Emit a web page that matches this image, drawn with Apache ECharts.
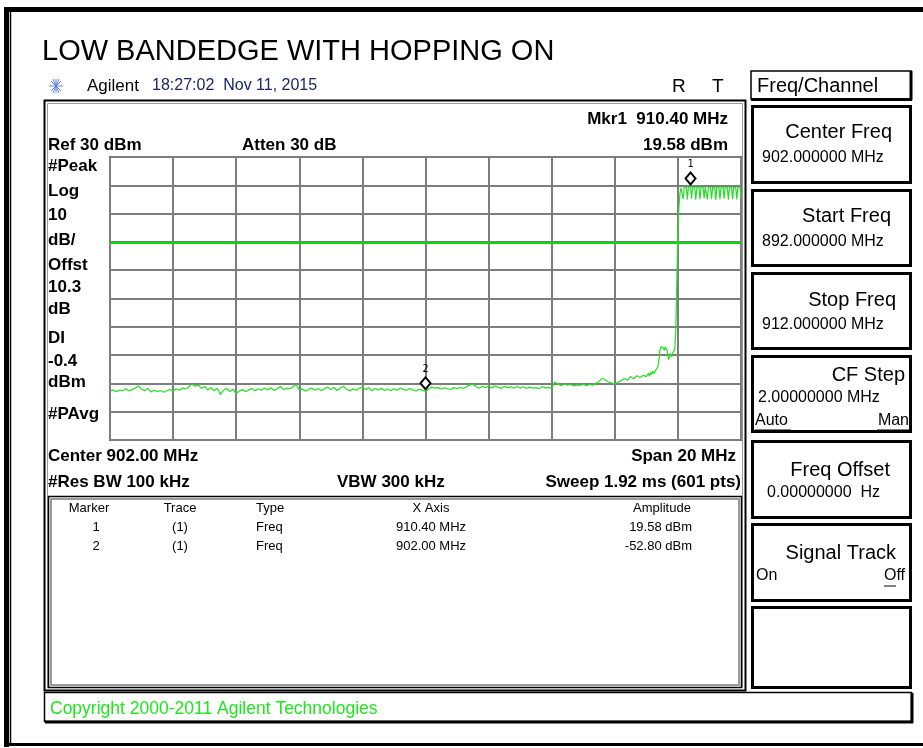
<!DOCTYPE html>
<html>
<head>
<meta charset="utf-8">
<script src="https://cdn.jsdelivr.net/npm/echarts@6/dist/echarts.min.js"></script>
<style>
html,body{margin:0;padding:0;background:#fff;}
#chart{width:923px;height:748px;}
</style>
</head>
<body>
<div id="chart"></div>
<script>
// ---------- DATA ----------
const chartTitle = 'LOW BANDEDGE WITH HOPPING ON';
const startFreqMHz = 892;
const stopFreqMHz = 912;
const freqDivMHz = 2;
const refLevelDbm = 30;
const bottomLevelDbm = -70;
const dbPerDiv = 10;
const displayLineDbm = -0.4;

// noise floor trace, 892.0 .. 909.0 MHz, every 0.1 MHz
const noiseStartMHz = 892.0;
const noiseStepMHz = 0.1;
const noiseLevels = [
  -52.8,-52.3,-52.9,-52.4,-52.6,-51.9,-52.7,-52.2,-51.6,-50.9,
  -52.0,-52.6,-51.8,-53.0,-52.4,-52.9,-52.5,-53.1,-52.6,-52.2,
  -52.7,-51.9,-52.4,-51.6,-52.0,-51.2,-50.1,-51.0,-50.6,-51.8,
  -51.1,-52.3,-51.5,-52.6,-51.7,-53.9,-52.4,-51.8,-52.9,-52.1,
  -53.6,-52.7,-52.2,-52.9,-52.3,-51.8,-52.6,-52.0,-52.4,-51.6,
  -52.3,-51.5,-52.5,-51.9,-51.1,-52.2,-51.7,-51.9,-51.2,-50.4,
  -52.3,-52.0,-52.8,-52.1,-51.6,-52.4,-51.8,-52.6,-51.9,-51.3,
  -52.2,-51.4,-52.5,-51.6,-51.0,-52.1,-52.7,-51.9,-52.4,-51.7,
  -51.3,-52.2,-51.5,-52.6,-51.8,-52.3,-51.7,-52.5,-52.0,-52.6,
  -51.9,-52.4,-51.6,-52.1,-52.5,-51.8,-52.3,-52.7,-52.1,-52.4,
  -52.8,-52.0,-51.3,-51.7,-51.5,-52.0,-51.6,-51.9,-52.1,-51.5,
  -51.9,-51.4,-51.8,-51.2,-50.6,-50.2,-51.1,-51.7,-51.0,-51.5,
  -50.8,-51.6,-50.9,-51.3,-51.8,-51.0,-51.5,-51.2,-51.7,-51.1,
  -51.6,-51.2,-51.8,-51.3,-51.7,-51.5,-51.9,-51.2,-51.6,-51.4,
  -51.8,-49.6,-50.3,-50.8,-50.1,-50.6,-50.4,-50.9,-50.5,-50.7,
  -50.2,-50.8,-50.4,-50.6,-50.0,-49.3,-48.2,-48.8,-49.5,-49.9,
  -50.2,-49.6,-49.1,-48.3,-48.9,-47.6,-48.4,-47.3,-47.9,-47.1,
  -47.6
];

// band edge + hopping channels, 909.0333 .. 912.0 MHz, sweep-point spacing (1/30 MHz)
const edgeStartMHz = 909.0 + 1 / 30;
const edgeStepMHz = 1 / 30;
const edgeLevels = [
  -47.2,-46.4,-47.5,-46.1,-46.9,-45.6,-46.6,-45.9,-45.3,-44.8,
  -44.2,-41.5,-38.0,-37.0,-36.6,-37.4,-38.3,-37.1,-37.8,-38.6,
  -41.6,-40.8,-39.4,-40.6,-39.2,-38.8,-38.1,-31.5,-14.0,  4.0,
   12.5, 17.2, 19.1, 19.5, 15.2, 19.3, 19.5, 19.4, 15.0, 19.2,
   19.5, 19.58,15.3, 19.4, 19.5, 19.3, 14.9, 19.2, 19.5, 19.4,
   15.1, 19.3, 19.5, 19.2, 15.4, 19.4, 19.5, 15.0, 19.3, 19.5,
   19.4, 15.2, 19.3, 19.5, 19.2, 14.8, 19.4, 19.5, 19.3, 15.1,
   19.2, 19.5, 19.4, 15.3, 19.3, 19.5, 19.1, 14.9, 19.4, 19.5,
   19.3, 15.2, 19.4, 19.5, 19.2, 15.0, 19.3, 19.5, 19.4, 15.6
];

const markerNames = ['1', '2'];
const markerFreqsMHz = [910.40, 902.00];
const markerLevelsDbm = [19.58, -52.80];

// ---------- BUILD ----------
const trace = [];
noiseLevels.forEach((v, i) => trace.push([+(noiseStartMHz + i * noiseStepMHz).toFixed(4), v]));
edgeLevels.forEach((v, i) => trace.push([+(edgeStartMHz + i * edgeStepMHz).toFixed(4), v]));

const FONT = '"Liberation Sans", Arial, sans-serif';
const G = [];
function txt(x, y, s, size, opt) {
  opt = opt || {};
  G.push({
    type: 'text', x: x, y: y, z: 10,
    style: {
      text: s, fill: opt.color || '#000',
      font: (opt.bold ? 'bold ' : '') + size + 'px ' + FONT,
      textAlign: opt.align || 'left', textVerticalAlign: 'middle'
    }
  });
}
function box(x, y, w, h, opt) {
  opt = opt || {};
  G.push({
    type: 'rect', z: opt.z || 1,
    shape: { x: x, y: y, width: w, height: h },
    style: { fill: opt.fill || 'none', stroke: opt.stroke || '#000', lineWidth: opt.lw || 1 }
  });
}
function ln(x1, y1, x2, y2, color, lw) {
  G.push({ type: 'line', z: 2, shape: { x1: x1, y1: y1, x2: x2, y2: y2 }, style: { stroke: color, lineWidth: lw } });
}

// outer frame
ln(4, 9.5, 923, 9.5, '#000', 5);
ln(6.5, 8, 6.5, 747, '#000', 5);
ln(10.5, 12, 10.5, 745, '#000', 1.5);
ln(8, 744.5, 923, 744.5, '#000', 3);

// title & header
txt(42, 52, chartTitle, 29);
// Agilent star
[[0,-7,0,7],[-7,0,7,0],[-5,-5,5,5],[-5,5,5,-5],[-3,-7,3,7],[3,-7,-3,7]].forEach(s =>
  ln(56 + s[0], 86 + s[1], 56 + s[2], 86 + s[3], '#5c7fe6', 1));
txt(87, 86, 'Agilent', 17);
txt(152, 86, '18:27:02  Nov 11, 2015', 16, { color: '#1b2466' });
txt(672, 87, 'R', 19);
txt(712, 87, 'T', 19);

// display frame
box(44.5, 100.5, 701, 590, { lw: 2 });
box(47.5, 103.5, 695, 584, { stroke: '#9a9a9a', lw: 1 });
txt(728, 119, 'Mkr1  910.40 MHz', 17, { bold: true, align: 'right' });
txt(48, 145, 'Ref 30 dBm', 17, { bold: true });
txt(242, 145, 'Atten 30 dB', 17, { bold: true });
txt(728, 145, '19.58 dBm', 17, { bold: true, align: 'right' });

const leftLabels = ['#Peak','Log','10','dB/','Offst','10.3','dB','DI','-0.4','dBm','#PAvg'];
const leftLabelY = [166, 191, 215, 240, 265, 287, 309, 338, 361, 382, 414];
leftLabels.forEach((s, i) => txt(48, leftLabelY[i], s, 17, { bold: true }));

txt(48, 456, 'Center 902.00 MHz', 17, { bold: true });
txt(736, 456, 'Span 20 MHz', 17, { bold: true, align: 'right' });
txt(48, 482, '#Res BW 100 kHz', 17, { bold: true });
txt(337, 482, 'VBW 300 kHz', 17, { bold: true });
txt(741, 482, 'Sweep 1.92 ms (601 pts)', 17, { bold: true, align: 'right' });

// marker table
box(48.5, 496.5, 693, 191, { stroke: '#000', lw: 1.5 });
box(51, 499, 688, 186, { stroke: '#999', lw: 2 });
const tblHead = ['Marker', 'Trace', 'Type', 'X Axis', 'Amplitude'];
const tblX = [89, 180, 256, 431, 662];
const tblAlign = ['center', 'center', 'left', 'center', 'center'];
tblHead.forEach((s, i) => txt(tblX[i], 508, s, 13, { align: tblAlign[i] }));
const tblRows = [
  ['1', '(1)', 'Freq', '910.40 MHz', '19.58 dBm'],
  ['2', '(1)', 'Freq', '902.00 MHz', '-52.80 dBm']
];
const rowX = [96, 180, 256, 431, 692];
const rowAlign = ['center', 'center', 'left', 'center', 'right'];
tblRows.forEach((r, j) => r.forEach((s, i) => txt(rowX[i], 527 + j * 19, s, 13, { align: rowAlign[i] })));

// soft keys
box(751, 71, 160, 28, { lw: 1.5 });
ln(911, 71, 911, 100, '#000', 3);
ln(751, 99.5, 912, 99.5, '#000', 3);
txt(757, 86, 'Freq/Channel', 20);
const keyTops = [105, 189, 272, 355, 440, 523, 606];
const keyH = [78, 77, 77, 77, 78, 78, 82];
keyTops.forEach((t, i) => box(752.5, t + 1.5, 158, keyH[i] - 2, { lw: 3 }));
const keyTitle = ['Center Freq', 'Start Freq', 'Stop Freq', 'CF Step', 'Freq Offset', 'Signal Track'];
const keyTitleY = [132, 216, 300, 375, 470, 553];
const keyTitleR = [892, 891, 896, 905, 890, 896];
keyTitle.forEach((s, i) => txt(keyTitleR[i], keyTitleY[i], s, 20, { align: 'right' }));
const keyVal = ['902.000000 MHz', '892.000000 MHz', '912.000000 MHz', '2.00000000 MHz', '0.00000000  Hz'];
const keyValY = [158, 242, 325, 398, 493];
const keyValX = [762, 762, 762, 758, 767];
keyVal.forEach((s, i) => txt(keyValX[i], keyValY[i], s, 16));
txt(755, 421, 'Auto', 16);
ln(755, 430, 791, 430, '#000', 1);
txt(909, 421, 'Man', 16, { align: 'right' });
ln(877, 430, 909, 430, '#000', 1);
txt(756, 576, 'On', 16);
txt(905, 576, 'Off', 16, { align: 'right' });
ln(884, 586, 896, 586, '#000', 1);

// copyright bar
box(44.5, 692.5, 867, 29, { lw: 1.5 });
ln(912, 693, 912, 723, '#000', 3);
ln(45, 722, 913, 722, '#000', 3);
txt(50, 709, 'Copyright 2000-2011 Agilent Technologies', 17.5, { color: '#1ee61e' });

const chart = echarts.init(document.getElementById('chart'), null, { renderer: 'canvas' });
chart.setOption({
  animation: false,
  backgroundColor: '#fff',
  grid: {
    left: 110, right: 182, top: 157, bottom: 308,
    show: true, borderColor: '#5a5a5a', borderWidth: 2, backgroundColor: '#fff'
  },
  xAxis: {
    type: 'value', min: startFreqMHz, max: stopFreqMHz, interval: freqDivMHz,
    axisLabel: { show: false }, axisTick: { show: false }, axisLine: { show: false },
    splitLine: { show: true, lineStyle: { color: '#7d7d7d', width: 2 } }
  },
  yAxis: {
    type: 'value', min: bottomLevelDbm, max: refLevelDbm, interval: dbPerDiv,
    axisLabel: { show: false }, axisTick: { show: false }, axisLine: { show: false },
    splitLine: { show: true, lineStyle: { color: '#7d7d7d', width: 2 } }
  },
  series: [{
    type: 'line', data: trace, symbol: 'none', z: 5,
    lineStyle: { color: '#22e022', width: 1.2 },
    markLine: {
      silent: true, symbol: 'none', label: { show: false },
      lineStyle: { color: '#00dd00', width: 2, type: 'solid' },
      data: [{ yAxis: displayLineDbm }]
    },
    markPoint: {
      silent: true,
      data: markerNames.map((n, i) => ({
        coord: [markerFreqsMHz[i], markerLevelsDbm[i]],
        symbol: 'diamond', symbolSize: [10, 12], symbolOffset: [0, -8],
        itemStyle: { color: '#fff', borderColor: '#000', borderWidth: 2 },
        label: { show: true, position: 'top', distance: 2, formatter: n, color: '#000', fontSize: 10, fontFamily: 'DejaVu Sans Mono' }
      }))
    }
  }],
  graphic: G
});
</script>
</body>
</html>
